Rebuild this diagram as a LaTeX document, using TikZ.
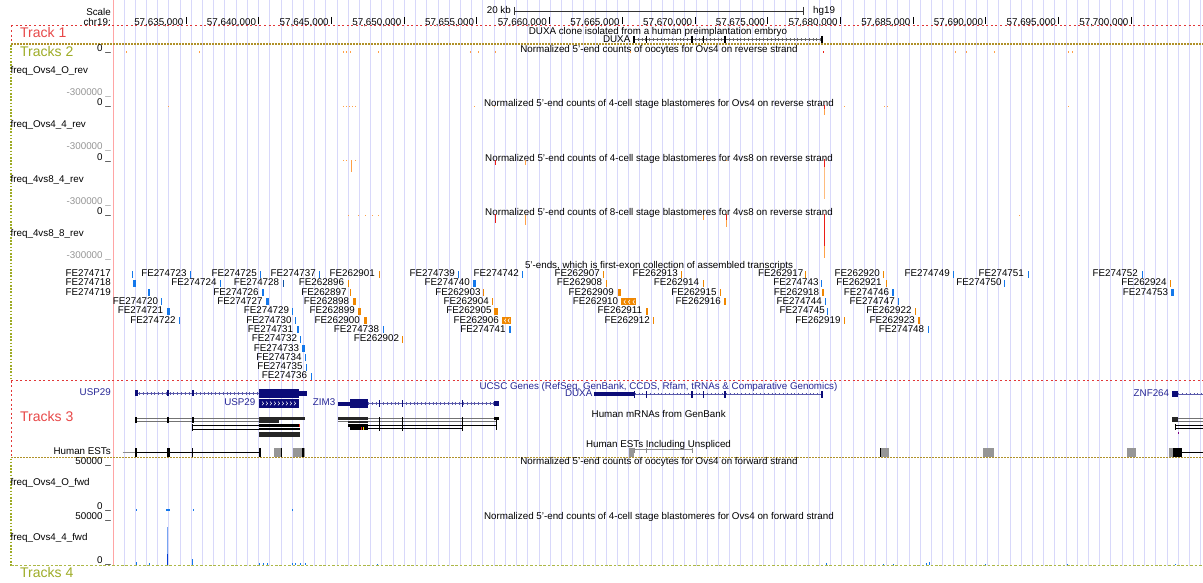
\documentclass[tikz,border=0pt]{standalone}
\usepackage{fontspec}
\setmainfont{Liberation Sans}
\definecolor{gridc}{RGB}{216,216,250}
\definecolor{pinkc}{RGB}{255,165,165}
\definecolor{redd}{RGB}{225,55,55}
\definecolor{oliv}{RGB}{176,145,40}
\definecolor{ygreen}{RGB}{158,172,38}
\definecolor{trk}{RGB}{232,72,72}
\definecolor{feblue}{RGB}{20,120,235}
\definecolor{feorange}{RGB}{240,135,0}
\definecolor{navy}{RGB}{12,12,120}
\definecolor{navyt}{RGB}{40,40,150}
\definecolor{navyl}{RGB}{90,90,170}
\definecolor{graytxt}{RGB}{150,150,150}
\definecolor{wigo}{RGB}{255,160,70}
\definecolor{wigr}{RGB}{235,30,20}
\definecolor{estg}{RGB}{150,150,150}
\definecolor{lblue}{RGB}{120,165,240}
\definecolor{dblue}{RGB}{0,60,210}
\tikzset{
  txt/.style={font=\fontsize{9.8}{10}\selectfont, inner sep=0pt, text=black},
  big/.style={font=\fontsize{14}{15}\selectfont, inner sep=0pt},
  reddash/.style={redd, line width=1pt, dash pattern=on 2pt off 2.6pt},
  olivdash/.style={oliv, line width=1.3pt, dash pattern=on 2pt off 1pt},
  ygdot/.style={ygreen, line width=1.3pt, dash pattern=on 1.6pt off 1.6pt},
  ygdash/.style={ygreen!85, line width=1.5pt, dash pattern=on 2.6pt off 1.8pt},
}
\newcommand\FEitem[6]{%
  \node[txt, anchor=mid east] (#3) at (#1,{274+9.3*(#2-1)}) {#3};
  \fill[#6] (#4,{270.5+9.3*(#2-1)}) rectangle ++(#5,7);
}
\newcommand\wg[4]{\fill[#4] (#1,#2) rectangle ++(1,#3);}
\newcommand\intronline[4]{% x1 x2 y color
  \draw[#4, line width=0.7pt] (#1,#3) -- (#2,#3);
  \draw[#4, line width=2.6pt, dash pattern=on 0.4pt off 3.4pt] (#1,#3) -- (#2,#3);
}
\begin{document}
\begin{tikzpicture}[x=1pt,y=-1pt]
\useasboundingbox (0,0) rectangle (1203,583);
\fill[white] (0,0) rectangle (1203,583);
% guide lines
\foreach \i in {0,...,96} {\draw[gridc, line width=0.9pt] ({124+11.215*\i},0) -- ({124+11.215*\i},566);}
\draw[pinkc, line width=1pt] (113,0) -- (113,566);

% ---------------- ruler
\node[txt, anchor=mid east] (scale) at (111,13) {Scale};
\node[txt, anchor=mid east] (chr) at (111,22.5) {chr19:};
\foreach \k/\l in {0/635,1/640,2/645,3/650,4/655,5/660,6/665,7/670,8/675,9/680,10/685,11/690,12/695,13/700} {
  \draw[black, line width=0.8pt] ({186+72.7*\k},17) -- ({186+72.7*\k},24.5);
  \node[txt, anchor=mid east] (pos\k) at ({183.5+72.7*\k},22.5) {57,\l,000};
}
\node[txt, anchor=mid east] (kb) at (511,11) {20 kb};
\coordinate (sbl) at (514,11);
\coordinate (sbr) at (803,11);
\draw[black!80, line width=0.8pt] (sbl) -- (sbr);
\draw[black!80, line width=0.8pt] (514,7) -- (514,15) (803,7) -- (803,15);
\node[txt, anchor=mid west] (hg) at (813,11) {hg19};

% ---------------- track frames
\draw[reddash] (11,25.5) -- (1203,25.5);
\draw[reddash] (11,25.5) -- (11,44);
\draw[olivdash] (11,44) -- (1203,44);
\draw[ygdot] (11,45) -- (11,380);
\draw[reddash] (11,380.5) -- (1203,380.5);
\draw[reddash] (11,380.5) -- (11,457.5);
\draw[olivdash] (11,457.5) -- (1203,457.5);
\draw[ygdot] (11,458.5) -- (11,565.5);
\draw[ygdash] (11,565.5) -- (1203,565.5);
\node[big, text=trk, anchor=mid west] (t1) at (20,34.5) {Track 1};
\node[big, text=ygreen, anchor=mid west] (t2) at (20,53.5) {Tracks 2};
\node[big, text=trk, anchor=mid west] (t3) at (20,419) {Tracks 3};
\node[big, text=ygreen, anchor=mid west] (t4) at (20,575) {Tracks 4};

% ---------------- Track 1: DUXA clone
\node[txt] (clonetitle) at (658,32) {DUXA clone isolated from a human preimplantation embryo};
\node[txt, anchor=mid east] (duxaclone) at (630.5,39.5) {DUXA};
\intronline{634}{822}{39.5}{black!60}
\foreach \x in {634,646.7,692,703.3,725,822} {\draw[black, line width=1.1pt] (\x,36) -- (\x,43);}

% ---------------- Tracks 2: reverse-strand wiggles
\foreach \i/\nm/\ttl in {0/freq\_Ovs4\_O\_rev/{Normalized 5'-end counts of oocytes for Ovs4 on reverse strand},
  1/freq\_Ovs4\_4\_rev/{Normalized 5'-end counts of 4-cell stage blastomeres for Ovs4 on reverse strand},
  2/freq\_4vs8\_4\_rev/{Normalized 5'-end counts of 4-cell stage blastomeres for 4vs8 on reverse strand},
  3/freq\_4vs8\_8\_rev/{Normalized 5'-end counts of 8-cell stage blastomeres for 4vs8 on reverse strand}} {
  \node[txt, anchor=mid east] (zero\i) at (111,{49+54.3*\i}) {0 \_};
  \node[txt, anchor=mid west] (name\i) at (10.5,{71+54.3*\i}) {\nm};
  \node[txt, text=graytxt, anchor=mid east] (min\i) at (111,{93+54.3*\i}) {-300000 \_};
  \node[txt] (title\i) at (659,{50+54.3*\i}) {\ttl};
}
% track a marks
\foreach \x in {126,199,343,346,350,378,470,478,495,630,955,966,994,1068,1072} {\wg{\x}{51.5}{1.5}{wigo}}
\wg{823}{51}{2.5}{wigr}
% track b marks
\foreach \x in {168,343,346,349,352,355,474,494,844,884,887,1068} {\wg{\x}{106}{1.5}{wigo}}
\wg{824}{105.5}{4}{wigr}
\wg{824}{109.5}{6}{wigo}
% track c marks
\foreach \x in {343,346,355,702,726} {\wg{\x}{160}{1.5}{wigo}}
\wg{351}{160}{12}{wigo}
\wg{495}{160}{5}{wigr}
\wg{525}{160.5}{4.5}{wigo}
\wg{824}{159.5}{8}{wigr}
\wg{824}{167.5}{32}{wigo!70}
% track d marks
\foreach \x in {348,358,365,372,378,1019} {\wg{\x}{215}{1.5}{wigo}}
\wg{495}{214.5}{8}{wigr}
\wg{525}{215}{10}{wigo}
\wg{703}{215}{5}{wigo}
\wg{726}{214.5}{5}{wigr}
\wg{726}{219.5}{7}{wigo}
\wg{824}{214}{32}{wigr}
\wg{824}{246}{12}{wigo}

% ---------------- Tracks 2: 5'-ends FE collection
\node[txt] (fetitle) at (659,265.5) {5'-ends, which is first-exon collection of assembled transcripts};
\FEitem{111}{1}{FE274717}{132}{1.2}{feblue}
\FEitem{186.7}{1}{FE274723}{190.2}{1.2}{feblue}
\FEitem{257}{1}{FE274725}{259.8}{1.2}{feblue}
\FEitem{316}{1}{FE274737}{318.8}{1.2}{feblue}
\FEitem{375}{1}{FE262901}{378.8}{1.2}{feorange}
\FEitem{455}{1}{FE274739}{457.8}{1.2}{feblue}
\FEitem{519}{1}{FE274742}{521.8}{1.2}{feblue}
\FEitem{600}{1}{FE262907}{602.8}{1.2}{feorange}
\FEitem{678}{1}{FE262913}{681.2}{1.2}{feorange}
\FEitem{803.5}{1}{FE262917}{805.2}{1.2}{feorange}
\FEitem{880}{1}{FE262920}{882.8}{1.2}{feorange}
\FEitem{950}{1}{FE274749}{952.8}{1.2}{feblue}
\FEitem{1024}{1}{FE274751}{1027.8}{1.2}{feblue}
\FEitem{1138}{1}{FE274752}{1141.8}{1.2}{feblue}
\FEitem{111}{2}{FE274718}{133}{3}{feblue}
\FEitem{216.7}{2}{FE274724}{219.8}{1.2}{feblue}
\FEitem{279.3}{2}{FE274728}{282.8}{1.2}{feblue!70!black}
\FEitem{344.3}{2}{FE262896}{347.8}{1.2}{feorange}
\FEitem{470}{2}{FE274740}{473}{2.5}{feblue}
\FEitem{602.3}{2}{FE262908}{605.5}{1.2}{feorange}
\FEitem{699.3}{2}{FE262914}{702.8}{1.2}{feorange}
\FEitem{818.7}{2}{FE274743}{820.8}{1.2}{feblue}
\FEitem{881.7}{2}{FE262921}{885.8}{1.2}{feorange}
\FEitem{1001.7}{2}{FE274750}{1003.5}{1.2}{feblue}
\FEitem{1166.7}{2}{FE262924}{1169.8}{1.2}{feorange}
\FEitem{111}{3}{FE274719}{148.2}{2}{feblue}
\FEitem{258.7}{3}{FE274726}{262.2}{2}{feblue}
\FEitem{346.7}{3}{FE262897}{350.2}{1.2}{feorange}
\FEitem{480.7}{3}{FE262903}{482.8}{1.2}{feorange}
\FEitem{614}{3}{FE262909}{617.5}{3.5}{feorange}
\FEitem{716.7}{3}{FE262915}{719.8}{1.2}{feorange}
\FEitem{819.3}{3}{FE262918}{822}{2}{feorange}
\FEitem{889.3}{3}{FE274746}{892}{2}{feblue}
\FEitem{1168.3}{3}{FE274753}{1171}{2.8}{feblue}
\FEitem{158.3}{4}{FE274720}{160.8}{1.2}{feblue}
\FEitem{262.7}{4}{FE274727}{266}{2.8}{feblue}
\FEitem{349.3}{4}{FE262898}{352.8}{3.5}{feorange}
\FEitem{489}{4}{FE262904}{491.8}{1.2}{feorange}
\FEitem{618.3}{4}{FE262910}{621}{15}{feorange}
\FEitem{721}{4}{FE262916}{723.5}{2}{feorange}
\FEitem{822}{4}{FE274744}{824.5}{1.2}{feblue}
\FEitem{895}{4}{FE274747}{897.8}{1.2}{feblue}
\FEitem{163.3}{5}{FE274721}{166.5}{3}{feblue}
\FEitem{289.3}{5}{FE274729}{291.8}{1.2}{feblue}
\FEitem{355}{5}{FE262899}{358}{3}{feorange}
\FEitem{491.7}{5}{FE262905}{494}{4}{feorange}
\FEitem{642.3}{5}{FE262911}{645.8}{2}{feorange}
\FEitem{825}{5}{FE274745}{827.2}{1.2}{feblue}
\FEitem{911.7}{5}{FE262922}{915.2}{1.2}{feorange}
\FEitem{175.7}{6}{FE274722}{179.2}{1.2}{feblue}
\FEitem{291.7}{6}{FE274730}{294.5}{1.2}{feblue}
\FEitem{360}{6}{FE262900}{363.5}{3.5}{feorange}
\FEitem{499}{6}{FE262906}{502.3}{8.4}{feorange}
\FEitem{650}{6}{FE262912}{653.2}{1.2}{feorange}
\FEitem{840.7}{6}{FE262919}{843.8}{1.2}{feorange}
\FEitem{915}{6}{FE262923}{917.5}{2}{feorange}
\FEitem{293.3}{7}{FE274731}{297}{2}{feblue}
\FEitem{379.3}{7}{FE274738}{382.8}{1.2}{feblue}
\FEitem{505.7}{7}{FE274741}{508.5}{2}{feblue}
\FEitem{924.3}{7}{FE274748}{927.8}{1.2}{feblue}
\FEitem{297.3}{8}{FE274732}{300.2}{1.2}{feblue}
\FEitem{399.3}{8}{FE262902}{401.8}{1.2}{feorange}
\FEitem{299.3}{9}{FE274733}{302.2}{2.5}{feblue}
\FEitem{301.7}{10}{FE274734}{304.5}{1.2}{feblue}
\FEitem{302.7}{11}{FE274735}{305.5}{1.2}{feblue}
\FEitem{307.3}{12}{FE274736}{310.5}{1.2}{feblue}
% white chevrons in wide boxes
\foreach \x in {624,628.5,633} {\draw[white, line width=0.6pt] (\x+1.5,{274+27.9-2}) -- (\x,{274+27.9}) -- (\x+1.5,{274+27.9+2});}
\foreach \x in {504.5,508} {\draw[white, line width=0.6pt] (\x+1.5,{274+46.5-2}) -- (\x,{274+46.5}) -- (\x+1.5,{274+46.5+2});}

% ---------------- Tracks 3: UCSC genes
\node[txt, text=navyt] (ucsc) at (658.5,386.5) {UCSC Genes (RefSeq, GenBank, CCDS, Rfam, tRNAs \& Comparative Genomics)};
% USP29 transcript 1
\node[txt, text=navyt, anchor=mid east] (usp29a) at (111,393.3) {USP29};
\intronline{135.3}{259.3}{393.3}{navyl}
\foreach \x in {135.3,166.8,191.8} {\fill[navy] (\x,390.3) rectangle ++(2.3,6);}
\fill[navy] (259.3,388.7) rectangle (299.3,397.7);
\fill[navy] (299.3,390.7) rectangle (307,395.7);
% USP29 transcript 2
\node[txt, text=navyt, anchor=mid east] (usp29b) at (255.5,403.3) {USP29};
\fill[navy] (259.3,398.5) rectangle (299.3,408.3);
\foreach \x in {262,266,270,274,278,282,286,290,294} {\draw[white, line width=0.5pt] (\x,401.5) -- (\x+1.6,403.4) -- (\x,405.3);}
% ZIM3
\node[txt, text=navyt, anchor=mid east] (zim3) at (335.5,403.3) {ZIM3};
\intronline{368}{494.3}{403.4}{navyl}
\fill[navy] (338.3,401.5) rectangle (350,405.5);
\fill[navy] (350,399) rectangle (367.7,407.6);
\foreach \x in {379.3,402.7,462.7} {\fill[navy] (\x-0.6,399.5) rectangle ++(1.2,7.8);}
\fill[navy] (494.3,401) rectangle (499,405.8);
% DUXA
\node[txt, text=navyt, anchor=mid east] (duxa) at (592.5,394.3) {DUXA};
\fill[navy] (594,391.7) rectangle (634.7,396.2);
\intronline{634.7}{822}{394}{navyl}
\foreach \x in {634.7,646.7,692,703.3,725,822} {\fill[navy] (\x-0.6,390.5) rectangle ++(1.2,7);}
% ZNF264
\node[txt, text=navyt, anchor=mid east] (znf264) at (1169.3,394) {ZNF264};
\fill[navy] (1172.3,391) rectangle (1178.3,397);
\intronline{1178.3}{1203}{394}{navyl}

% ---------------- Human mRNAs
\node[txt] (mrnatitle) at (658.7,414) {Human mRNAs from GenBank};
% USP29 mRNAs
\draw[black!55, line width=0.9pt] (135,418.2) -- (305,418.2);
\draw[black!55, line width=0.9pt] (135,421.2) -- (279,421.2);
\foreach \x in {134.8,166.8,191.8} {\fill[black] (\x,416.7) rectangle ++(2.3,6);}
\fill[black!85] (259.3,416.7) rectangle (305,419.5);
\fill[black!85] (259.3,419.6) rectangle (278.7,422.5);
\draw[black, line width=0.8pt] (192,425.5) -- (300,425.5);
\draw[black, line width=0.8pt] (192,429) -- (300,429);
\fill[black] (191.6,423.5) rectangle ++(1.4,7.5);
\fill[black] (259.3,424.3) rectangle (300,426.7);
\fill[black] (259.3,427.8) rectangle (300,430.2);
\fill[wigr] (299,424.3) rectangle ++(1.2,2.4);
\fill[black!85] (259.3,432.3) rectangle (300,437.2);
% ZIM3 mRNAs
\fill[black!85] (338.3,416.6) rectangle (368,420.2);
\draw[black!55, line width=0.9pt] (368,418.2) -- (499,418.2);
\fill[black] (494.3,416.6) rectangle (499,420);
\draw[black!55, line width=0.9pt] (338.3,421.5) -- (496,421.5);
\fill[black!85] (348.3,420.5) rectangle (368,422.6);
\draw[black, line width=0.8pt] (348.3,425.3) -- (496,425.3);
\fill[black] (348.3,424) rectangle (368,426.6);
\draw[black, line width=0.8pt] (350,428.7) -- (462.7,428.7);
\fill[black] (350,427.4) rectangle (368,430);
\fill[wigr] (360.5,427.4) rectangle ++(1.5,2.6);
\fill[yellow!90!orange] (362.5,427.4) rectangle ++(1.5,2.6);
\foreach \x in {379.3,402.7,462.7} {\fill[black] (\x-0.6,416.5) rectangle ++(1.2,14);}
\fill[black] (495.5,416.5) rectangle ++(1.2,13);
% ZNF264 mRNAs
\fill[black!85] (1172.3,417.3) rectangle (1178.3,422.3);
\draw[black!55, line width=0.9pt] (1178.3,418.5) -- (1203,418.5);
\draw[black!55, line width=0.9pt] (1178.3,421.5) -- (1203,421.5);
\draw[black, line width=0.8pt] (1175,425.3) -- (1203,425.3);
\draw[black, line width=0.8pt] (1175,428.7) -- (1203,428.7);
\foreach \y in {425.3,428.7} {\fill[black] (1175,\y-1.6) rectangle ++(1,3.2);}
\fill[violet] (1177.5,432) rectangle ++(1,2);

% ---------------- Human ESTs
\node[txt] (esttitle) at (658.5,444.7) {Human ESTs Including Unspliced};
\node[txt, anchor=mid east] (estlab) at (111,452.3) {Human ESTs};
\draw[black!45, line width=0.6pt] (122.7,452.5) -- (135,452.5);
\draw[black, line width=0.9pt] (135,452.6) -- (261,452.6);
\foreach \x/\w in {135/2.2,167.3/2.7,192/1.2,259.3/2} {\fill[black] (\x,448.3) rectangle ++(\w,8.4);}
\fill[estg] (273.7,448.3) rectangle (281,456.7);
\fill[black] (280.7,448.3) rectangle (282.3,456.7);
\fill[estg] (293,448.3) rectangle (305,456.7);
\fill[black] (301.7,448.3) rectangle (304,456.7);
\fill[estg] (629.3,447.7) rectangle (634.3,456.7);
\draw[black!45, line width=0.7pt] (634.3,449) -- (692,449);
\foreach \x in {634.5,646.7,692} {\draw[black!45, line width=0.7pt] (\x,447.7) -- (\x,453);}
\fill[estg] (880,448.3) rectangle (889,456.7);
\fill[black] (880,448.3) rectangle (881,456.7);
\fill[estg] (983.3,448.3) rectangle (994,456.7);
\fill[estg] (1127.3,448.3) rectangle (1136,456.7);
\fill[estg] (1169.3,448.3) rectangle (1172.7,456.7);
\fill[black] (1172.7,448.3) rectangle (1181.7,456.7);
\draw[black, line width=0.8pt] (1181.7,452.3) -- (1203,452.3);

% ---------------- Tracks 4: forward-strand wiggles
\node[txt, anchor=mid east] (max4) at (111,461.5) {50000 \_};
\node[txt, anchor=mid west] (name4) at (10.5,482.5) {freq\_Ovs4\_O\_fwd};
\node[txt, anchor=mid east] (zero4) at (111,506.5) {0 \_};
\node[txt] (title4) at (659,462.3) {Normalized 5'-end counts of oocytes for Ovs4 on forward strand};
\node[txt, anchor=mid east] (max5) at (111,516.5) {50000 \_};
\node[txt, anchor=mid west] (name5) at (10.5,538.3) {freq\_Ovs4\_4\_fwd};
\node[txt, anchor=mid east] (zero5) at (111,561) {0 \_};
\node[txt] (title5) at (659,516.8) {Normalized 5'-end counts of 4-cell stage blastomeres for Ovs4 on forward strand};
\foreach \x in {136,166,167,168,169,193,292} {\wg{\x}{509.3}{1.2}{feblue}}
\wg{166.7}{527}{27}{lblue}
\wg{166.7}{554}{11}{dblue}
\foreach \x/\h in {136/3,149/2,192/6,259/2,263/2,267/2,292/2,295/2,300/2,305/2,377/1.5,826/2,883/1.5,893/1.5,926/2,929/3,985/1.5,1067/1.5,1175/1.5} {\wg{\x}{565-\h}{\h}{feblue}}
\end{tikzpicture}
\end{document}
